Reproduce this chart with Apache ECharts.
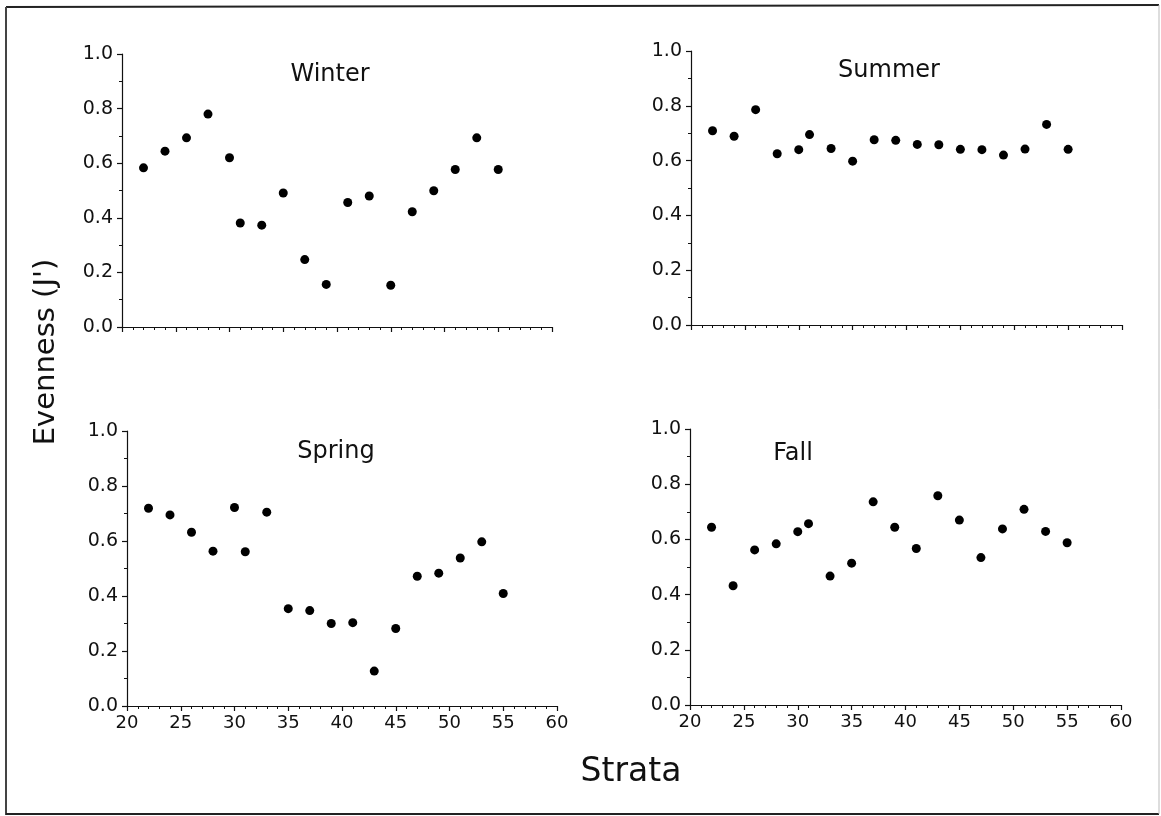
<!DOCTYPE html>
<html>
<head>
<meta charset="utf-8">
<script src="https://cdn.jsdelivr.net/npm/echarts@6/dist/echarts.min.js"></script>
<style>
html,body{margin:0;padding:0;background:#fff;}
#chart{width:1161px;height:816px;}
</style>
</head>
<body>
<div id="chart"></div>
<script>
// ---- data ----
const strata = [22, 24, 26, 28, 30, 31, 33, 35, 37, 39, 41, 43, 45, 47, 49, 51, 53, 55];
const winter = [0.583, 0.644, 0.693, 0.780, 0.620, 0.381, 0.373, 0.491, 0.247, 0.156, 0.456, 0.480, 0.153, 0.422, 0.499, 0.577, 0.693, 0.577];
const summer = [0.709, 0.689, 0.786, 0.625, 0.640, 0.695, 0.644, 0.598, 0.676, 0.674, 0.659, 0.658, 0.641, 0.640, 0.620, 0.642, 0.732, 0.641];
const spring = [0.719, 0.695, 0.632, 0.563, 0.722, 0.561, 0.705, 0.354, 0.347, 0.300, 0.303, 0.127, 0.282, 0.472, 0.483, 0.538, 0.597, 0.409];
const fall   = [0.644, 0.432, 0.562, 0.584, 0.628, 0.657, 0.467, 0.514, 0.736, 0.644, 0.567, 0.758, 0.670, 0.534, 0.638, 0.709, 0.629, 0.588];
const panelNames = ['Winter', 'Summer', 'Spring', 'Fall'];
const panelData = [winter, summer, spring, fall];
const xTicks = [20, 25, 30, 35, 40, 45, 50, 55, 60];
const yTicks = [0.0, 0.2, 0.4, 0.6, 0.8, 1.0];

// ---- layout ----
const FONT = 'DejaVu Sans';
const grids = [
  {left: 122, top: 54, width: 430, height: 273},
  {left: 691, top: 51, width: 431, height: 274},
  {left: 127, top: 431, width: 430, height: 275},
  {left: 690, top: 429, width: 431, height: 276}
];
const titlePos = [
  {x: 330, y: 75},
  {x: 889, y: 71},
  {x: 336, y: 452},
  {x: 793, y: 454}
];

const chart = echarts.init(document.getElementById('chart'), null, {renderer: 'canvas'});

const xAxes = grids.map((g, i) => ({
  type: 'value', gridIndex: i,
  min: xTicks[0], max: xTicks[xTicks.length - 1], interval: xTicks[1] - xTicks[0],
  axisLine: {show: true, onZero: false, lineStyle: {color: '#111', width: 1.2}},
  axisTick: {show: true, inside: false, length: 5, lineStyle: {color: '#111', width: 1.2}},
  minorTick: {show: true, splitNumber: 5, length: 3, lineStyle: {color: '#111', width: 1}},
  splitLine: {show: false},
  axisLabel: {show: i >= 2, color: '#111', fontFamily: FONT, fontSize: 18, margin: 8}
}));
const yAxes = grids.map((g, i) => ({
  type: 'value', gridIndex: i,
  min: yTicks[0], max: yTicks[yTicks.length - 1], interval: yTicks[1] - yTicks[0],
  axisLine: {show: true, onZero: false, lineStyle: {color: '#111', width: 1.2}},
  axisTick: {show: true, inside: false, length: 5, lineStyle: {color: '#111', width: 1.2}},
  minorTick: {show: true, splitNumber: 2, length: 3, lineStyle: {color: '#111', width: 1}},
  splitLine: {show: false},
  axisLabel: {color: '#111', fontFamily: FONT, fontSize: 19, margin: 9,
    formatter: v => v.toFixed(1)}
}));
const series = panelData.map((d, i) => ({
  type: 'scatter', xAxisIndex: i, yAxisIndex: i,
  symbol: 'circle', symbolSize: 9,
  itemStyle: {color: '#000', opacity: 1},
  data: strata.map((x, k) => [x, d[k]]),
  silent: true
}));
const titles = panelNames.map((n, i) => ({
  text: n, left: titlePos[i].x, top: titlePos[i].y, padding: 0,
  textAlign: 'center', textVerticalAlign: 'middle',
  textStyle: {fontFamily: FONT, fontSize: 24, fontWeight: 'normal', color: '#111'}
}));

chart.setOption({
  animation: false,
  backgroundColor: '#fff',
  title: titles,
  grid: grids.map(g => Object.assign({containLabel: false}, g)),
  xAxis: xAxes,
  yAxis: yAxes,
  series: series,
  graphic: [
    {type: 'line', shape: {x1: 6, y1: 7, x2: 1159, y2: 5}, style: {stroke: '#222', lineWidth: 2}},
    {type: 'line', shape: {x1: 6, y1: 7, x2: 6, y2: 815}, style: {stroke: '#444', lineWidth: 2}},
    {type: 'line', shape: {x1: 6, y1: 814, x2: 1159, y2: 814}, style: {stroke: '#222', lineWidth: 2}},
    {type: 'line', shape: {x1: 1159, y1: 5, x2: 1159, y2: 814}, style: {stroke: '#bbb', lineWidth: 1}},
    {type: 'text', x: 46, y: 352, rotation: Math.PI / 2,
      style: {text: "Evenness (J')", fontFamily: FONT, fontSize: 29, fill: '#111',
        textAlign: 'center', textVerticalAlign: 'middle'}},
    {type: 'text', x: 631, y: 772,
      style: {text: 'Strata', fontFamily: FONT, fontSize: 33, fill: '#111',
        textAlign: 'center', textVerticalAlign: 'middle'}}
  ]
});
</script>
</body>
</html>
